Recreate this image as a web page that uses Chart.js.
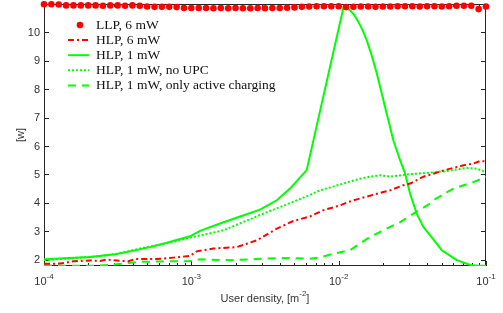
<!DOCTYPE html>
<html>
<head>
<meta charset="utf-8">
<script src="https://cdn.jsdelivr.net/npm/chart.js@4"></script>
<style>
  html, body { margin: 0; padding: 0; background: #fff; }
  #wrap { width: 503px; height: 313px; position: relative; }
</style>
</head>
<body>
<div id="wrap"><canvas id="c"></canvas></div>
<script>
// ─── data (x given as log10 of user density) ───
var llpExp = [-4.00,-3.95,-3.90,-3.85,-3.80,-3.75,-3.70,-3.65,-3.60,-3.55,
              -3.50,-3.45,-3.40,-3.35,-3.30,-3.25,-3.20,-3.15,-3.10,-3.05,
              -3.00,-2.95,-2.90,-2.85,-2.80,-2.75,-2.70,-2.65,-2.60,-2.55,
              -2.50,-2.45,-2.40,-2.35,-2.30,-2.25,-2.20,-2.15,-2.10,-2.05,
              -2.00,-1.95,-1.90,-1.85,-1.80,-1.75,-1.70,-1.65,-1.60,-1.55,
              -1.50,-1.45,-1.40,-1.35,-1.30,-1.25,-1.20,-1.15,-1.10,-1.05,-1.00];
var llpVals = [10.99,10.99,10.98,10.95,10.95,10.95,10.95,10.95,10.94,10.95,
               10.95,10.94,10.95,10.94,10.91,10.90,10.90,10.90,10.89,10.86,
               10.86,10.86,10.86,10.85,10.86,10.85,10.86,10.85,10.85,10.86,
               10.85,10.86,10.86,10.87,10.88,10.90,10.91,10.92,10.92,10.92,
               10.92,10.89,10.90,10.91,10.91,10.90,10.91,10.91,10.92,10.92,
               10.92,10.91,10.92,10.92,10.91,10.92,10.94,10.94,10.94,10.82,10.91];

var hlp6Exp  = [-4.000,-3.891,-3.801,-3.688,-3.620,-3.574,-3.462,-3.427,-3.382,-3.235,-3.122,-3.009,-2.963,-2.851,-2.692,-2.624,-2.556,-2.420,-2.308,-2.194,-2.104,-1.990,-1.934,-1.877,-1.697,-1.651,-1.561,-1.515,-1.425,-1.380,-1.289,-1.153,-1.086,-1.040,-1.000];
var hlp6Vals = [1.85,1.86,1.94,1.97,1.95,2.00,1.95,1.94,2.02,2.02,2.07,2.13,2.29,2.39,2.44,2.56,2.68,3.09,3.36,3.52,3.74,3.91,4.03,4.12,4.38,4.44,4.62,4.68,4.92,4.99,5.14,5.32,5.38,5.47,5.46];

var hlp1Exp  = [-4.000,-3.688,-3.518,-3.416,-3.280,-3.179,-3.009,-2.941,-2.805,-2.669,-2.534,-2.420,-2.330,-2.217,-1.968,-1.945,-1.923,-1.895,-1.866,-1.838,-1.809,-1.775,-1.741,-1.685,-1.629,-1.583,-1.549,-1.515,-1.470,-1.425,-1.380,-1.300,-1.198,-1.108,-1.054,-1.000];
var hlp1Vals = [2.01,2.09,2.19,2.29,2.44,2.58,2.82,3.01,3.27,3.52,3.76,4.09,4.50,5.15,10.87,10.84,10.78,10.62,10.37,10.08,9.72,9.18,8.55,7.37,6.20,5.50,5.03,4.32,3.62,3.15,2.86,2.33,1.98,1.81,1.78,1.78];

var noUpcExp  = [-4.000,-3.688,-3.518,-3.348,-3.179,-3.009,-2.783,-2.511,-2.398,-2.194,-2.126,-1.934,-1.855,-1.798,-1.719,-1.651,-1.538,-1.380,-1.266,-1.130,-1.062,-1.000];
var noUpcVals = [1.98,2.09,2.19,2.39,2.56,2.77,3.03,3.62,3.85,4.28,4.44,4.73,4.85,4.91,4.97,4.92,5.00,5.06,5.12,5.23,5.20,5.08];

var activeExp  = [-4.000,-3.801,-3.620,-3.462,-3.348,-3.009,-2.941,-2.737,-2.511,-2.330,-2.194,-2.126,-2.036,-1.923,-1.787,-1.651,-1.583,-1.493,-1.380,-1.357,-1.221,-1.086,-1.000];
var activeVals = [1.80,1.78,1.79,1.86,1.92,1.95,2.01,1.98,2.03,2.06,2.03,2.08,2.21,2.33,2.80,3.15,3.32,3.62,3.97,4.09,4.50,4.73,4.91];

var seriesNames = ['LLP, 6 mW', 'HLP, 6 mW', 'HLP, 1 mW', 'HLP, 1 mW, no UPC', 'HLP, 1 mW, only active charging'];
var xTickExps = [-4, -3, -2, -1];
var xMinorMant = [2, 3, 4, 5, 6, 7, 8, 9];
var yTicks = [2, 3, 4, 5, 6, 7, 8, 9, 10];

function pts(ex, vals) {
  return ex.map(function(e, i) { return { x: Math.pow(10, e), y: vals[i] }; });
}

var AXIS_COL = '#262626';
var TXT_COL = '#333333';
var SANS = '"Liberation Sans", Arial, sans-serif';

// text with superscript parts: [[text, isSup], ...], centred on cx
function drawParts(ctx, parts, cx, y) {
  var widths = parts.map(function(p) {
    ctx.font = (p[1] ? '8px ' : '11px ') + SANS;
    return ctx.measureText(p[0]).width;
  });
  var x = cx - widths.reduce(function(a, b) { return a + b; }, 0) / 2;
  ctx.textAlign = 'left';
  ctx.textBaseline = 'middle';
  parts.forEach(function(p, i) {
    ctx.font = (p[1] ? '8px ' : '11px ') + SANS;
    ctx.fillText(p[0], x, p[1] ? y - 5 : y);
    x += widths[i];
  });
}

// box, inward ticks and axis text in MATLAB style
var frame = {
  id: 'frame',
  beforeDatasetsDraw: function(chart) {
    var ctx = chart.ctx, a = chart.chartArea, xs = chart.scales.x, ys = chart.scales.y;
    ctx.save();
    ctx.strokeStyle = AXIS_COL;
    ctx.lineWidth = 1;
    ctx.beginPath();
    ctx.rect(a.left + 0.5, a.top + 0.5, a.right - a.left - 1, a.bottom - a.top - 1);
    xs.ticks.forEach(function(t) {
      var lg = Math.log10(t.value);
      var major = Math.abs(lg - Math.round(lg)) < 1e-6;
      var len = major ? 5 : 3;
      var px = Math.round(xs.getPixelForValue(t.value)) + 0.5;
      ctx.moveTo(px, a.bottom); ctx.lineTo(px, a.bottom - len);
      ctx.moveTo(px, a.top); ctx.lineTo(px, a.top + len);
    });
    ys.ticks.forEach(function(t) {
      var py = Math.round(ys.getPixelForValue(t.value)) + 0.5;
      ctx.moveTo(a.left, py); ctx.lineTo(a.left + 5, py);
      ctx.moveTo(a.right, py); ctx.lineTo(a.right - 5, py);
    });
    ctx.stroke();

    ctx.fillStyle = TXT_COL;
    // y tick labels
    ctx.font = '11px ' + SANS;
    ctx.textAlign = 'right';
    ctx.textBaseline = 'middle';
    ys.ticks.forEach(function(t) {
      ctx.fillText(String(t.value), a.left - 4, ys.getPixelForValue(t.value) + 0.5);
    });
    // x tick labels 10^n
    xTickExps.forEach(function(e) {
      drawParts(ctx, [['10', false], [String(e), true]], xs.getPixelForValue(Math.pow(10, e)), a.bottom + 16);
    });
    // axis titles
    drawParts(ctx, [['User density, [m', false], ['-2', true], [']', false]], (a.left + a.right) / 2, a.bottom + 33);
    ctx.save();
    ctx.translate(21, (a.top + a.bottom) / 2);
    ctx.rotate(-Math.PI / 2);
    ctx.font = '11px ' + SANS;
    ctx.textAlign = 'center';
    ctx.textBaseline = 'middle';
    ctx.fillText('[w]', 0, 0);
    ctx.restore();
    ctx.restore();
  }
};

// legend inside the axes, no box
var insideLegend = {
  id: 'insideLegend',
  afterDatasetsDraw: function(chart) {
    var ctx = chart.ctx;
    ctx.save();
    chart.data.datasets.forEach(function(ds, i) {
      var y = 24.5 + i * 15.1;
      if (ds.showLine === false) {
        ctx.fillStyle = ds.pointBackgroundColor;
        ctx.beginPath();
        ctx.arc(80, y + 0.5, ds.pointRadius, 0, Math.PI * 2);
        ctx.fill();
      } else {
        ctx.strokeStyle = ds.borderColor;
        ctx.lineWidth = ds.borderWidth;
        ctx.setLineDash(ds.borderDash || []);
        ctx.beginPath();
        ctx.moveTo(68, y + 0.5);
        ctx.lineTo(89, y + 0.5);
        ctx.stroke();
        ctx.setLineDash([]);
      }
      ctx.fillStyle = '#111';
      ctx.font = '13.5px "Liberation Serif", "Times New Roman", serif';
      ctx.textAlign = 'left';
      ctx.textBaseline = 'middle';
      ctx.fillText(ds.label, 96, y + 1);
    });
    ctx.restore();
  }
};

new Chart(document.getElementById('c'), {
  type: 'line',
  data: {
    datasets: [
      { label: seriesNames[0], data: pts(llpExp, llpVals), showLine: false, pointRadius: 3.3,
        pointBackgroundColor: '#ff0000', pointBorderWidth: 0, borderColor: '#ff0000', clip: false },
      { label: seriesNames[1], data: pts(hlp6Exp, hlp6Vals), borderColor: '#ff0000', borderWidth: 2,
        borderDash: [6, 3, 2, 3], pointRadius: 0, tension: 0 },
      { label: seriesNames[2], data: pts(hlp1Exp, hlp1Vals), borderColor: '#00ff00', borderWidth: 2,
        pointRadius: 0, tension: 0 },
      { label: seriesNames[3], data: pts(noUpcExp, noUpcVals), borderColor: '#00ff00', borderWidth: 2,
        borderDash: [2, 2], pointRadius: 0, tension: 0 },
      { label: seriesNames[4], data: pts(activeExp, activeVals), borderColor: '#00ff00', borderWidth: 2,
        borderDash: [8, 6], pointRadius: 0, tension: 0 }
    ]
  },
  options: {
    responsive: true,
    maintainAspectRatio: false,
    animation: false,
    events: [],
    layout: { padding: { left: 0, right: 17, top: 4, bottom: 0 } },
    plugins: { legend: { display: false }, tooltip: { enabled: false } },
    scales: {
      x: {
        type: 'logarithmic', min: 1e-4, max: 1e-1,
        grid: { display: false }, border: { display: false }, ticks: { display: false },
        afterBuildTicks: function(s) {
          var t = [];
          xTickExps.forEach(function(e, k) {
            t.push({ value: Math.pow(10, e) });
            if (k < xTickExps.length - 1) xMinorMant.forEach(function(m) { t.push({ value: m * Math.pow(10, e) }); });
          });
          s.ticks = t;
        },
        afterFit: function(s) { s.height = 47; }
      },
      y: {
        type: 'linear', min: 1.775, max: 11.0,
        grid: { display: false }, border: { display: false }, ticks: { display: false },
        afterBuildTicks: function(s) { s.ticks = yTicks.map(function(v) { return { value: v }; }); },
        afterFit: function(s) { s.width = 44; }
      }
    }
  },
  plugins: [frame, insideLegend]
});
</script>
</body>
</html>
